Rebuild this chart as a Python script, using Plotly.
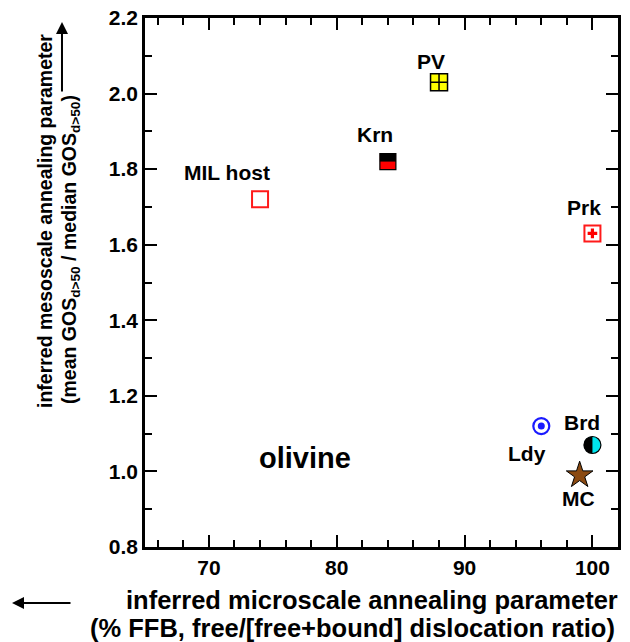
import plotly.graph_objects as go

# ---- data ----
samples = ["MIL host", "Krn", "PV", "Prk", "Ldy", "Brd", "MC"]
ffb_pct = [74, 84, 88, 100, 96, 100, 99]
gos_ratio = [1.72, 1.82, 2.03, 1.63, 1.12, 1.07, 0.99]

x_ticks = [70, 80, 90, 100]
y_ticks = [0.8, 1.0, 1.2, 1.4, 1.6, 1.8, 2.0, 2.2]

FONT = "Liberation Sans, Arial, sans-serif"
d = dict(zip(samples, zip(ffb_pct, gos_ratio)))

fig = go.Figure()

def pt(name, **marker):
    x, y = d[name]
    fig.add_trace(go.Scatter(x=[x], y=[y], mode="markers", marker=marker,
                             showlegend=False, hoverinfo="skip", cliponaxis=False))

# MIL host: open red square
pt("MIL host", symbol="square-open", size=16, color="#ff1a1a", line=dict(width=2, color="#ff1a1a"))
# Krn: red square with black top half
pt("Krn", symbol="square", size=16, color="#ff0000", line=dict(width=1.2, color="black"))
# PV: yellow square with cross
pt("PV", symbol="square-cross", size=17, color="#ffff00", line=dict(width=1.5, color="black"))
# Prk: open red square with red plus
pt("Prk", symbol="square-open", size=16, color="#ff1a1a", line=dict(width=2, color="#ff1a1a"))
pt("Prk", symbol="cross", size=8, color="#ff0000", line=dict(width=0))
# Ldy: blue open circle with dot
pt("Ldy", symbol="circle-open", size=16, color="#1a1aff", line=dict(width=2.2, color="#1a1aff"))
pt("Ldy", symbol="circle", size=7, color="#1a1aff", line=dict(width=0))
# Brd: cyan circle with black left half
pt("Brd", symbol="circle", size=17, color="#00e5ee", line=dict(width=1.2, color="black"))
# MC: brown star
pt("MC", symbol="star", size=20, color="#8b4a12", line=dict(width=1, color="black"))

# half-fills (pixel-sized shapes anchored at data points)
kx, ky = d["Krn"]
fig.add_shape(type="rect", xref="x", yref="y", xsizemode="pixel", ysizemode="pixel",
              xanchor=kx, yanchor=ky, x0=-8, x1=8, y0=0, y1=8,
              fillcolor="black", line=dict(width=0))
bx, by = d["Brd"]
r = 8.5
k = 0.5523 * r
half_disc = (f"M 0,{r} C {-k},{r} {-r},{k} {-r},0 "
             f"C {-r},{-k} {-k},{-r} 0,{-r} Z")
fig.add_shape(type="path", xref="x", yref="y", xsizemode="pixel", ysizemode="pixel",
              xanchor=bx, yanchor=by, path=half_disc,
              fillcolor="black", line=dict(width=0))

# point labels
offsets = {"MIL host": (-33, 27), "Krn": (-13, 27), "PV": (-8, 21), "Prk": (-8, 26),
           "Brd": (-10, 22), "Ldy": (-14, -27), "MC": (-1, -23)}
for name in samples:
    x, y = d[name]
    dx, dy = offsets[name]
    fig.add_annotation(x=x, y=y, xref="x", yref="y", text=f"<b>{name}</b>", showarrow=False,
                       xshift=dx, yshift=dy, font=dict(family=FONT, size=21, color="black"))

fig.add_annotation(x=0.237, y=0.134, xref="paper", yref="paper", text="<b>olivine</b>",
                   showarrow=False, font=dict(family=FONT, size=29, color="black"))

# axis titles (as annotations)
fig.add_annotation(x=1.004, y=-0.100, xref="paper", yref="paper", xanchor="right", yanchor="middle",
                   text="<b>inferred microscale annealing parameter</b>", showarrow=False,
                   font=dict(family=FONT, size=25.5, color="black"))
fig.add_annotation(x=0.998, y=-0.153, xref="paper", yref="paper", xanchor="right", yanchor="middle",
                   text="<b>(% FFB, free/[free+bound] dislocation ratio)</b>", showarrow=False,
                   font=dict(family=FONT, size=25.5, color="black"))
fig.add_annotation(x=-0.2114, y=0.6163, xref="paper", yref="paper", xanchor="center", yanchor="middle",
                   textangle=-90, text="<b>inferred mesoscale annealing parameter</b>", showarrow=False,
                   font=dict(family=FONT, size=19.5, color="black"))
fig.add_annotation(x=-0.1586, y=0.5633, xref="paper", yref="paper", xanchor="center", yanchor="middle",
                   textangle=-90,
                   text="<b>(mean GOS<sub>d>50</sub> / median GOS<sub>d>50</sub>)</b>", showarrow=False,
                   font=dict(family=FONT, size=19.5, color="black"))
# arrows
fig.add_annotation(x=-0.1755, y=0.9924, xref="paper", yref="paper", text="", showarrow=True,
                   ax=0, ay=71, arrowhead=2, arrowsize=1.2, arrowwidth=2, arrowcolor="black")
fig.add_annotation(x=-0.2812, y=-0.1059, xref="paper", yref="paper", text="", showarrow=True,
                   ax=60, ay=0, arrowhead=2, arrowsize=1.2, arrowwidth=2, arrowcolor="black")

axis_common = dict(showline=True, linewidth=2.5, linecolor="black", mirror="ticks",
                   ticks="inside", ticklen=12, tickwidth=2, tickcolor="black",
                   showgrid=False, zeroline=False, automargin=False,
                   ticklabeloverflow="allow",
                   tickfont=dict(family=FONT, size=21, color="black", weight="bold"))

fig.update_xaxes(range=[65, 102], tickmode="array", tickvals=x_ticks,
                 ticktext=[str(v) for v in x_ticks],
                 minor=dict(ticks="inside", ticklen=7, tickwidth=2, tickcolor="black",
                            tickmode="linear", tick0=66, dtick=2, showgrid=False),
                 **axis_common)
fig.update_yaxes(range=[0.8, 2.2], tickmode="array", tickvals=y_ticks,
                 ticktext=[f"{v:.1f}" for v in y_ticks],
                 minor=dict(ticks="inside", ticklen=7, tickwidth=2, tickcolor="black",
                            tickmode="linear", tick0=0.9, dtick=0.2, showgrid=False),
                 **axis_common)

# page body has an 8px default margin; size the figure so the plot area lands where the reference has it
fig.update_layout(width=622, height=634, margin=dict(l=137, r=12, t=10, b=95),
                  plot_bgcolor="white", paper_bgcolor="white")

fig.write_html("out.html")
